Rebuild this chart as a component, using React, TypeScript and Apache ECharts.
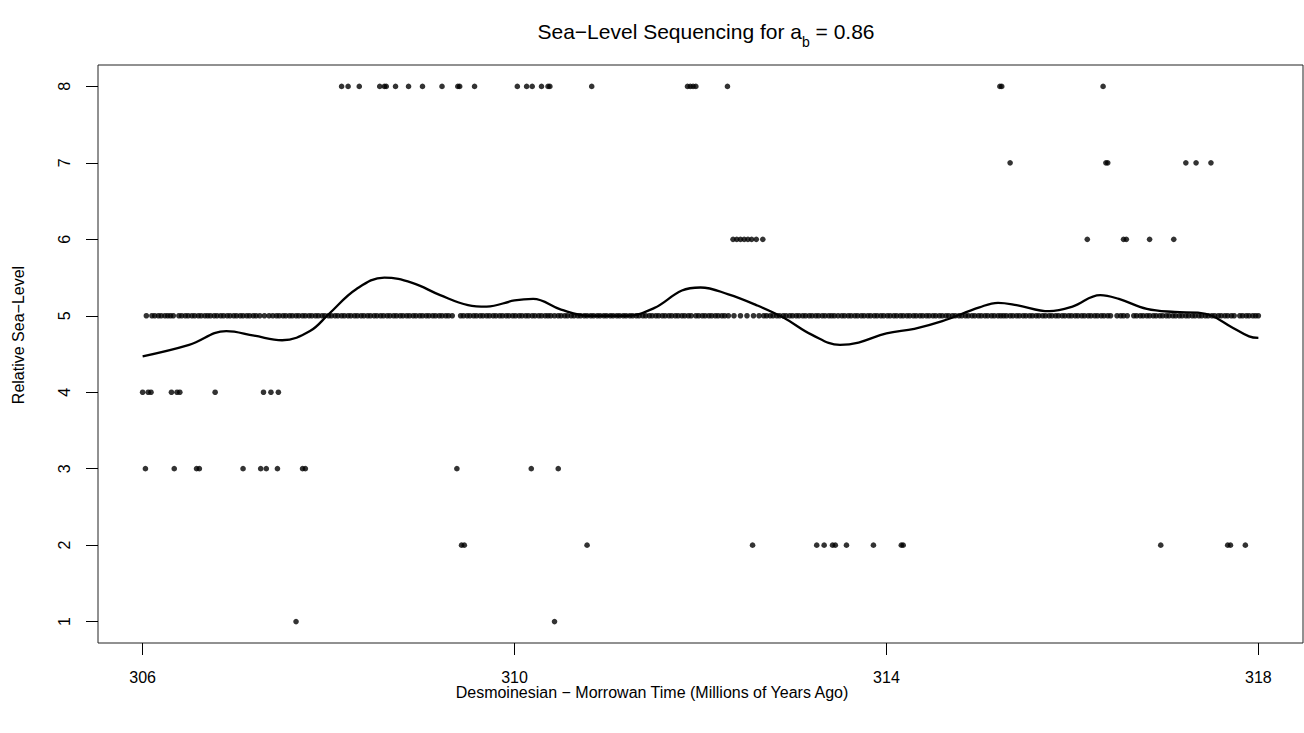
import React, { useEffect, useRef } from "react";
import * as echarts from "echarts";

// Sampled time points (Ma) grouped by relative sea-level
const level5X = [
  306.04,
  306.10, 306.13, 306.17, 306.20, 306.24, 306.27, 306.30, 306.33,
  306.39, 306.42, 306.46, 306.49, 306.53, 306.56, 306.60, 306.63, 306.67, 306.70, 306.73, 306.77, 306.80,
  306.84, 306.87, 306.91, 306.94, 306.98, 307.01, 307.05, 307.08, 307.12, 307.15, 307.19, 307.22, 307.26,
  307.31, 307.36,
  307.40, 307.44, 307.47, 307.51, 307.54, 307.58, 307.61, 307.65, 307.68, 307.72,
  307.75, 307.79, 307.82, 307.86, 307.89, 307.93, 307.96, 308.00, 308.03, 308.07, 308.10, 308.14, 308.17,
  308.21, 308.24, 308.28, 308.31, 308.35, 308.38, 308.42, 308.45, 308.49, 308.52, 308.56, 308.59, 308.63,
  308.66, 308.70, 308.73, 308.77, 308.80, 308.84, 308.87, 308.91, 308.94, 308.98, 309.01, 309.05, 309.08,
  309.12, 309.15, 309.19, 309.22, 309.26, 309.29, 309.33,
  309.42, 309.45, 309.49, 309.52, 309.56, 309.59, 309.63, 309.66, 309.70, 309.73, 309.77, 309.80, 309.84,
  309.87, 309.91, 309.94, 309.98, 310.01, 310.05, 310.08, 310.12, 310.15, 310.19, 310.22, 310.26, 310.29,
  310.33, 310.36, 310.39,
  310.43,
  310.47, 310.50, 310.54, 310.57, 310.61, 310.64, 310.68, 310.71, 310.75, 310.78, 310.82, 310.85, 310.89,
  310.92, 310.96, 310.99, 311.03, 311.06, 311.10, 311.13, 311.17, 311.20, 311.24, 311.27, 311.31, 311.34,
  311.38, 311.41, 311.45, 311.48, 311.52, 311.55, 311.59, 311.62, 311.66, 311.69, 311.73, 311.76, 311.80,
  311.83, 311.87, 311.90,
  311.95, 311.98, 312.02, 312.05, 312.09, 312.12, 312.16, 312.19, 312.23, 312.26, 312.30,
  312.36, 312.43, 312.50, 312.57, 312.63,
  312.68, 312.71, 312.75, 312.78, 312.82, 312.85, 312.89, 312.92, 312.96, 312.99, 313.03, 313.06, 313.10,
  313.13, 313.17, 313.20, 313.24, 313.27, 313.31, 313.34, 313.38, 313.41, 313.44,
  313.48, 313.52, 313.55, 313.59, 313.62, 313.66, 313.69, 313.73, 313.76, 313.80, 313.83, 313.87, 313.90,
  313.94, 313.97, 314.01, 314.04, 314.08, 314.11, 314.15, 314.18, 314.22, 314.25, 314.29, 314.32, 314.36,
  314.39, 314.43, 314.46, 314.50, 314.53, 314.57, 314.60, 314.64, 314.67, 314.71, 314.74, 314.78, 314.81,
  314.85, 314.88, 314.92, 314.95, 314.99, 315.02, 315.06, 315.09, 315.13, 315.16, 315.20, 315.23, 315.26,
  315.29, 315.33, 315.36, 315.40, 315.43, 315.47, 315.50, 315.54, 315.57, 315.61, 315.64, 315.68, 315.71,
  315.75, 315.78, 315.82, 315.85, 315.89, 315.92, 315.96, 315.99, 316.03, 316.06, 316.10, 316.13, 316.17,
  316.20, 316.24, 316.27, 316.31, 316.34, 316.38, 316.41,
  316.48, 316.52, 316.55, 316.59,
  316.66, 316.69, 316.73, 316.76, 316.80, 316.83, 316.87, 316.90, 316.94, 316.97, 317.01, 317.04, 317.08,
  317.11, 317.15, 317.18, 317.22, 317.25, 317.29, 317.32, 317.36, 317.39, 317.43, 317.46, 317.50, 317.53,
  317.57, 317.60, 317.64, 317.67, 317.71, 317.74,
  317.80, 317.83, 317.87, 317.90, 317.94, 317.97, 318.00,
];

const level8X = [
  308.14, 308.21, 308.33, 308.55, 308.60, 308.62, 308.72, 308.86, 309.01, 309.22, 309.39, 309.41, 309.57,
  310.03, 310.13, 310.19, 310.29, 310.36, 310.38, 310.83, 311.86, 311.89, 311.92, 311.95, 312.29,
  315.22, 315.24, 316.33,
];
const level7X = [315.33, 316.36, 316.38, 317.22, 317.33, 317.49];
const level6X = [
  312.35, 312.39, 312.43, 312.47, 312.51, 312.55, 312.60, 312.67, 316.16, 316.55, 316.58, 316.83, 317.09,
];
const level4X = [306.0, 306.06, 306.09, 306.31, 306.37, 306.4, 306.78, 307.3, 307.38, 307.46];
const level3X = [
  306.03, 306.34, 306.58, 306.61, 307.08, 307.27, 307.33, 307.45, 307.72, 307.75, 309.38, 310.18, 310.47,
];
const level2X = [
  309.43, 309.46, 310.78, 312.56, 313.25, 313.33, 313.42, 313.45, 313.57, 313.86, 314.16, 314.18, 316.95,
  317.67, 317.7, 317.86,
];
const level1X = [307.65, 310.43];

// Smoothed sea-level trend
const trendX = [
  306.0, 306.5, 306.9, 307.2, 307.5, 307.8, 308.0, 308.3, 308.6, 308.9, 309.2, 309.5, 309.7, 310.0, 310.2,
  310.5, 310.8, 311.2, 311.5, 311.8, 312.0, 312.3, 312.6, 312.9, 313.2, 313.5, 313.7, 314.0, 314.3, 314.6,
  315.0, 315.2, 315.4, 315.75, 316.0, 316.3, 316.5, 316.8, 317.1, 317.35, 317.5, 317.7, 317.9, 318.0,
];
const trendY = [
  4.47, 4.62, 4.8, 4.74, 4.68, 4.8, 5.02, 5.35, 5.5, 5.43, 5.27, 5.14, 5.12, 5.2, 5.22,
  5.08, 5.0, 5.0, 5.1, 5.33, 5.37, 5.28, 5.14, 4.97, 4.75, 4.62, 4.65, 4.77, 4.83, 4.93,
  5.11, 5.17, 5.14, 5.06, 5.12, 5.27, 5.22, 5.09, 5.05, 5.04, 5.0, 4.86, 4.73, 4.71,
];

const xTicks = [306, 310, 314, 318];
const yTicks = [1, 2, 3, 4, 5, 6, 7, 8];

const FONT = "Liberation Sans, Arial, Helvetica, sans-serif";

export default function App() {
  const ref = useRef<HTMLDivElement>(null);

  useEffect(() => {
    if (!ref.current) return;
    const chart = echarts.init(ref.current, null, { renderer: "svg" });

    const levels: [number[], number][] = [
      [level1X, 1],
      [level2X, 2],
      [level3X, 3],
      [level4X, 4],
      [level5X, 5],
      [level6X, 6],
      [level7X, 7],
      [level8X, 8],
    ];
    const points: [number, number][] = [];
    levels.forEach(([xs, lv]) => xs.forEach((x) => points.push([x, lv])));
    const trend = trendX.map((x, i) => [x, trendY[i]]);

    chart.setOption({
      animation: false,
      backgroundColor: "#ffffff",
      textStyle: { fontFamily: FONT, color: "#000" },
      title: {
        text: "{m|Sea\u2212Level Sequencing for a}{s|b}{m| = 0.86}",
        left: 701,
        top: 16,
        textAlign: "center",
        textStyle: {
          fontWeight: "normal",
          rich: {
            m: { fontFamily: FONT, fontSize: 21, fontWeight: "normal", color: "#000", lineHeight: 24, verticalAlign: "top" },
            s: { fontFamily: FONT, fontSize: 14, fontWeight: "normal", color: "#000", lineHeight: 14, verticalAlign: "bottom", padding: [0, 0, -4, 0] },
          },
        },
      },
      graphic: [
        {
          type: "text",
          x: 652,
          y: 692,
          style: {
            text: "Desmoinesian \u2212 Morrowan Time (Millions of Years Ago)",
            fontFamily: FONT,
            fontSize: 16,
            fill: "#000",
            align: "center",
            verticalAlign: "middle",
          },
        },
        {
          type: "text",
          x: 18,
          y: 335,
          rotation: Math.PI / 2,
          style: {
            text: "Relative Sea\u2212Level",
            fontFamily: FONT,
            fontSize: 16,
            fill: "#000",
            align: "center",
            verticalAlign: "middle",
          },
        },
      ],
      grid: { left: 98, right: 1, top: 65, bottom: 90, show: true, borderColor: "#222", borderWidth: 1 },
      xAxis: {
        type: "value",
        min: 305.52,
        max: 318.48,
        splitLine: { show: false },
        axisLine: { show: false },
        axisTick: { show: true, length: 12, lineStyle: { color: "#000" }, customValues: xTicks },
        axisLabel: { fontFamily: FONT, fontSize: 16, color: "#000", margin: 26, customValues: xTicks, formatter: (v: number) => String(v) },
      },
      yAxis: {
        type: "value",
        min: 0.72,
        max: 8.28,
        splitLine: { show: false },
        axisLine: { show: false },
        axisTick: { show: true, length: 12, lineStyle: { color: "#000" }, customValues: yTicks },
        axisLabel: { fontFamily: FONT, fontSize: 16, color: "#000", margin: 26, rotate: 90, customValues: yTicks, formatter: (v: number) => String(v) },
      },
      series: [
        {
          type: "scatter",
          data: points,
          symbol: "circle",
          symbolSize: 5.6,
          itemStyle: { color: "#000" },
          silent: true,
        },
        {
          type: "line",
          data: trend,
          smooth: 0.4,
          showSymbol: false,
          lineStyle: { color: "#000", width: 2.3 },
          silent: true,
        },
      ],
    });

    return () => chart.dispose();
  }, []);

  return (
    <div
      ref={ref}
      style={{ position: "fixed", left: 0, top: 0, width: 1304, height: 733, background: "#fff" }}
    />
  );
}
